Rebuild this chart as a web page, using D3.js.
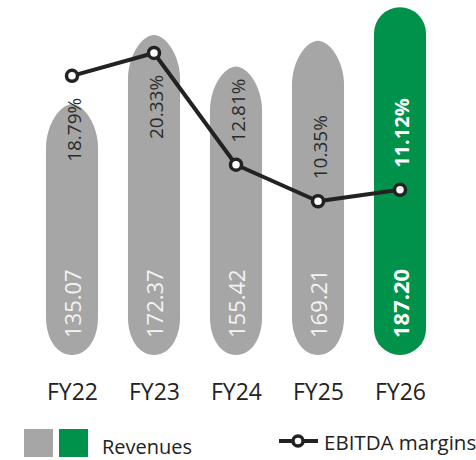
<!DOCTYPE html>
<html><head><meta charset="utf-8">
<script src="https://cdn.jsdelivr.net/npm/d3@7"></script>
<style>
html,body{margin:0;padding:0;background:#fff;}
svg{display:block;font-family:"Open Sans","Segoe UI",sans-serif;}
</style></head>
<body>
<svg id="chart" width="476" height="460"></svg>
<script>
const categories = ["FY22","FY23","FY24","FY25","FY26"];
const revenues = [135.07, 172.37, 155.42, 169.21, 187.20];
const revenueLabels = ["135.07","172.37","155.42","169.21","187.20"];
const margins = [18.79, 20.33, 12.81, 10.35, 11.12];
const marginLabels = ["18.79%","20.33%","12.81%","10.35%","11.12%"];
const highlight = [false,false,false,false,true];
const legendLabels = ["Revenues","EBITDA margins"];

const GRAY = "#a6a6a6", GREEN = "#00914a", INK = "#222";
const svg = d3.select("#chart");

const x = d3.scalePoint().domain(categories).range([31, 441]).padding(0.5);
const step = x.step();
const bw = step * 0.635;
const base = 355;
const yRev = d3.scaleLinear().domain([0, 190]).range([base, base - 190 * 1.857]);
const yMar = d3.scaleLinear().domain([0, 24]).range([base, base - 24 * 14.855]);

function grayPath(cx, top, bottom) {
  const x0 = cx - bw/2, x1 = cx + bw/2;
  const ht = 44, hb = 38;
  return `M${x0},${bottom-hb} L${x0},${top+ht} C${x0},${top+ht*0.45} ${cx-bw*0.22},${top} ${cx},${top}`
    + ` C${cx+bw*0.22},${top} ${x1},${top+ht*0.45} ${x1},${top+ht} L${x1},${bottom-hb}`
    + ` C${x1},${bottom-hb*0.4} ${cx+bw*0.28},${bottom} ${cx},${bottom}`
    + ` C${cx-bw*0.28},${bottom} ${x0},${bottom-hb*0.4} ${x0},${bottom-hb} Z`;
}
function stadiumPath(cx, top, bottom) {
  const r = bw/2, x0 = cx - r, x1 = cx + r;
  return `M${x0},${top+r} A${r},${r} 0 0 1 ${x1},${top+r} L${x1},${bottom-r} A${r},${r} 0 0 1 ${x0},${bottom-r} Z`;
}

const data = categories.map((c,i)=>({c, rev:revenues[i], revL:revenueLabels[i], m:margins[i], mL:marginLabels[i], hi:highlight[i]}));

svg.append("g").selectAll("path").data(data).join("path")
  .attr("d", d => d.hi ? stadiumPath(x(d.c), yRev(d.rev), yRev(0)) : grayPath(x(d.c), yRev(d.rev), yRev(0)))
  .attr("fill", d => d.hi ? GREEN : GRAY);

// revenue labels
svg.append("g").selectAll("text").data(data).join("text")
  .attr("transform", d => `translate(${x(d.c)+1},${yRev(0)-17}) rotate(-90)`)
  .attr("dy","0.36em")
  .attr("text-anchor","start")
  .attr("font-size", 22)
  .attr("font-weight", d => d.hi ? 700 : 400)
  .attr("fill", d => d.hi ? "#fff" : "#f4f4f4")
  .text(d => d.revL);

// margin labels
svg.append("g").selectAll("text").data(data).join("text")
  .attr("transform", d => {
    const py = yMar(d.m);
    const ty = d.m > 15 ? py + 86 : py - 22;
    return `translate(${x(d.c)+2},${ty}) rotate(-90)`;
  })
  .attr("dy","0.36em")
  .attr("text-anchor","start")
  .attr("font-size", d => d.hi ? 20 : 19)
  .attr("font-weight", d => d.hi ? 700 : 400)
  .attr("fill", d => d.hi ? "#fff" : "#2a2a2a")
  .text(d => d.mL);

// line
const line = d3.line().x(d => x(d.c)).y(d => yMar(d.m));
svg.append("path").datum(data).attr("d", line)
  .attr("fill","none").attr("stroke",INK).attr("stroke-width",4).attr("stroke-linejoin","round");
svg.append("g").selectAll("circle").data(data).join("circle")
  .attr("cx", d => x(d.c)).attr("cy", d => yMar(d.m)).attr("r", 5.5)
  .attr("fill","#fff").attr("stroke",INK).attr("stroke-width",3.5);

// x axis
const ax = svg.append("g").attr("transform",`translate(0,${384})`)
  .call(d3.axisBottom(x).tickSize(0).tickPadding(0));
ax.select(".domain").remove();
ax.selectAll("text").attr("font-size",23).attr("fill","#222").attr("font-family","'Open Sans',sans-serif");

// legend
const lg = svg.append("g");
lg.append("rect").attr("x",24).attr("y",429).attr("width",29).attr("height",28).attr("fill",GRAY);
lg.append("rect").attr("x",59).attr("y",429).attr("width",29).attr("height",28).attr("fill",GREEN);
lg.append("text").attr("x",102).attr("y",454).attr("font-size",20).attr("fill","#222").text(legendLabels[0]);
lg.append("line").attr("x1",279).attr("x2",318).attr("y1",441).attr("y2",441).attr("stroke",INK).attr("stroke-width",4);
lg.append("circle").attr("cx",298).attr("cy",441).attr("r",5).attr("fill","#fff").attr("stroke",INK).attr("stroke-width",3.5);
lg.append("text").attr("x",324).attr("y",450).attr("font-size",20.5).attr("fill","#222").text(legendLabels[1]);
</script>
</body></html>
